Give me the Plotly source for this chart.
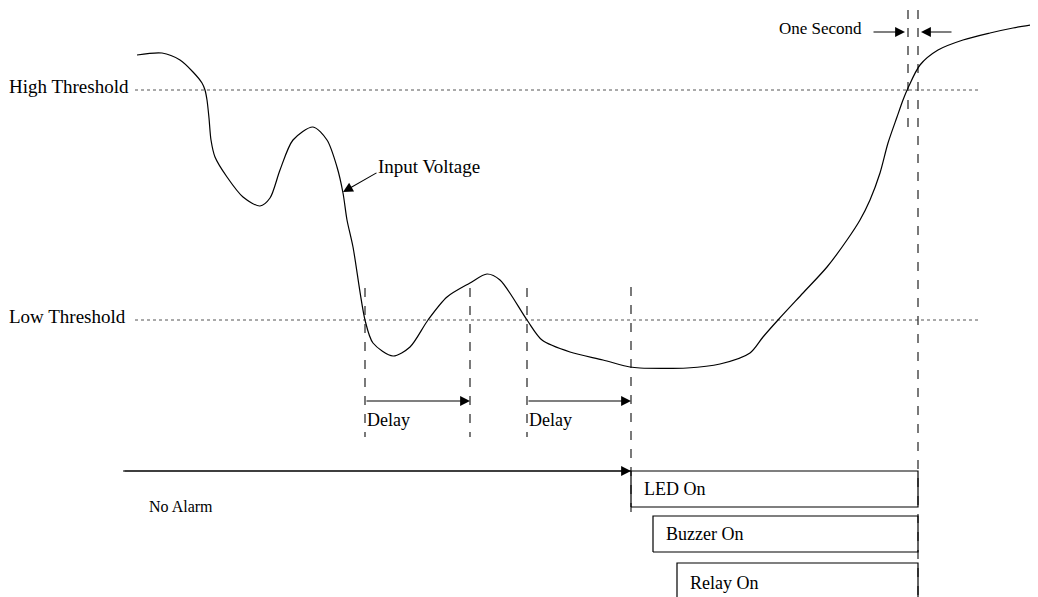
import plotly.graph_objects as go

W, H = 1038, 597
PAGE_PAD = 8  # browser default body margin; compensated via axis ranges

# Input voltage curve (pixel-space reading of the diagram)
curve_x = [137, 162, 180, 193, 202, 205, 207, 209, 211, 215, 227, 243, 260, 270, 280, 293, 313, 327, 337,
           343, 347, 353, 365, 373, 393, 410, 428, 447, 470, 487, 500, 527, 542, 570, 603, 630, 640,
           687, 720, 750, 763, 778, 803, 827, 847, 860, 870, 880, 888, 897, 903, 908, 920, 938, 963,
           990, 1013, 1037]
curve_y = [55, 53, 60, 72, 83, 90, 100, 118, 140, 157, 177, 197, 206, 198, 170, 140, 127, 140, 167,
           193, 220, 247, 320, 343, 356, 347, 320, 297, 283, 274, 280, 320, 340, 352, 360, 367, 368,
           368, 364, 353, 337, 320, 293, 267, 240, 220, 200, 173, 143, 117, 100, 88, 65, 50, 40,
           33, 28, 24]

thresholds = {"High Threshold": 90, "Low Threshold": 320}
thr_x = [135, 978]

delay_marks = [365, 470, 527, 631]
delay_span = [288, 437]
delay_arrows = [(365, 470), (527, 631)]
delay_arrow_y = 401

sec_marks = [908, 918]
sec_span = [(10, 132), (10, 600)]

timeline_y = 471
timeline_x = [123, 631]

boxes = [  # label, left, top, bottom
    ("LED On", 631, 471, 507),
    ("Buzzer On", 653, 516, 552),
    ("Relay On", 677, 563, 610),
]
box_right = 918

FAM = "Liberation Serif, Times New Roman, serif"
def font(size=18):
    return dict(family=FAM, size=size, color="#000")

fig = go.Figure()

# thresholds
for name, yv in thresholds.items():
    fig.add_trace(go.Scatter(x=thr_x, y=[yv, yv], mode="lines",
                             line=dict(color="#555", width=1, dash="dot"), hoverinfo="skip"))

# dashed markers
for xv in delay_marks:
    span = delay_span if xv != 631 else [287, 517]
    fig.add_trace(go.Scatter(x=[xv, xv], y=span, mode="lines",
                             line=dict(color="#333", width=1.3, dash="dash"), hoverinfo="skip"))
for xv, sp in zip(sec_marks, sec_span):
    fig.add_trace(go.Scatter(x=[xv, xv], y=list(sp), mode="lines",
                             line=dict(color="#333", width=1.3, dash="dash"), hoverinfo="skip"))

# curve
fig.add_trace(go.Scatter(x=curve_x, y=curve_y, mode="lines",
                         line=dict(color="#000", width=1.2, shape="spline", smoothing=0.8),
                         hoverinfo="skip"))

# timeline
fig.add_trace(go.Scatter(x=timeline_x, y=[timeline_y, timeline_y], mode="lines",
                         line=dict(color="#000", width=1.2), hoverinfo="skip"))

# boxes
for label, l, t, b in boxes:
    closed = b < H
    fig.add_trace(go.Scatter(x=[l, l, box_right, box_right, l] if closed else [l, l, box_right, box_right],
                             y=[b, t, t, b, b] if closed else [b, t, t, b],
                             mode="lines", line=dict(color="#000", width=1.2), hoverinfo="skip"))
    fig.add_annotation(x=l + 11, y=(t + b) / 2 if closed else t + 20, text=label,
                       showarrow=False, xanchor="left", yanchor="middle", font=font(18))

def arrow(x0, y0, x1, y1):
    fig.add_annotation(x=x1, y=y1, ax=x0, ay=y0, xref="x", yref="y", axref="x", ayref="y",
                       text="", showarrow=True, arrowhead=2, arrowsize=1.8, arrowwidth=1.1,
                       arrowcolor="#000", standoff=0, startstandoff=0)

for a, b in delay_arrows:
    arrow(a, delay_arrow_y, b, delay_arrow_y)
    fig.add_annotation(x=a, y=420, text="Delay", showarrow=False, xanchor="left",
                       yanchor="middle", font=font(18))

arrow(timeline_x[0], timeline_y, timeline_x[1], timeline_y)
arrow(872, 32, 905, 32)
arrow(953, 32, 921, 32)
arrow(378, 172, 343, 192)

for name, yv in thresholds.items():
    fig.add_annotation(x=9, y=yv - 4, xshift=-2, text=name, showarrow=False, xanchor="left",
                       yanchor="middle", font=font(19))
fig.add_annotation(x=376, y=166, text="Input Voltage", showarrow=False, xanchor="left",
                   yanchor="middle", font=font(19))
fig.add_annotation(x=864, y=28, text="One Second", showarrow=False, xanchor="right",
                   yanchor="middle", font=font(17))
fig.add_annotation(x=147, y=506, text="No Alarm", showarrow=False, xanchor="left",
                   yanchor="middle", font=font(16))

fig.update_layout(width=W, height=H, margin=dict(l=0, r=0, t=0, b=0),
                  paper_bgcolor="white", plot_bgcolor="white", showlegend=False,
                  xaxis=dict(range=[PAGE_PAD, W + PAGE_PAD], visible=False, fixedrange=True),
                  yaxis=dict(range=[H + PAGE_PAD, PAGE_PAD], visible=False, fixedrange=True))

fig.write_html("out.html", config={"displayModeBar": False})
